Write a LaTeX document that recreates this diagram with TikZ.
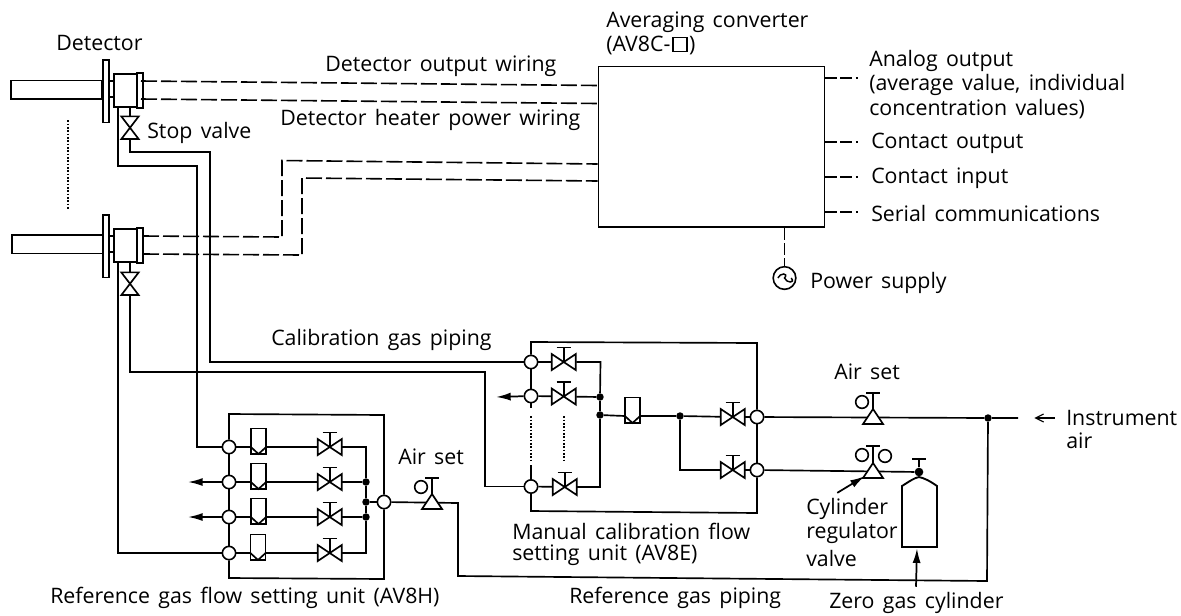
\documentclass[tikz,border=0pt]{standalone}
\usepackage{fontspec}
\setmainfont[WordSpace=1.5]{Open Sans}
\usetikzlibrary{arrows.meta}
\tikzset{
  pipe/.style={line width=1.25pt},
  wire/.style={line width=1.2pt,dash pattern=on 12pt off 3pt},
  wireshort/.style={line width=1.2pt,dash pattern=on 9pt off 2.5pt},
  thin box/.style={draw,line width=1.2pt,fill=white,inner sep=0pt},
  jct/.style={circle,draw,line width=1.2pt,fill=white,minimum size=10pt,inner sep=0pt},
  dot/.style={circle,fill=black,minimum size=5.6pt,inner sep=0pt},
  valvebox/.style={minimum width=18pt,minimum height=12pt,inner sep=0pt},
  lbl/.style={anchor=west,inner sep=0pt,font=\fontsize{16pt}{18pt}\selectfont},
  flowbox/.style={draw,line width=1.2pt,fill=white,minimum width=11.5pt,minimum height=19pt,inner sep=0pt},
  gauge/.style={circle,draw,line width=1.2pt,fill=white,minimum size=9.5pt,inner sep=0pt},
  tipfat/.style={-{Latex[length=11pt,width=6pt]},line width=1.3pt},
  tipthin/.style={-{Straight Barb[length=6pt,width=6pt]},line width=0.9pt},
  dotted col/.style={line width=1.7pt,dash pattern=on 1.4pt off 1.1pt},
  pt/.style={inner sep=0pt,minimum size=0pt},
}
% horizontal valve: bowtie with stem and T handle
\newcommand\hvalve[3]{%
  \node[valvebox] (#1) at (#2,#3) {};
  \draw[pipe,line join=miter] (#1.west) ++(0,6pt) -- ++(0,-12pt) -- ++(18pt,12pt) -- ++(0,-12pt) -- cycle;
  \draw[pipe] (#1.center) -- ++(0,11pt) ++(-5.6pt,0) -- ++(11.2pt,0);
}
% vertical stop valve
\newcommand\vvalve[3]{%
  \node[minimum width=13pt,minimum height=17pt,inner sep=0pt] (#1) at (#2,#3) {};
  \draw[pipe] (#1.north) ++(-6.5pt,0) -- ++(13pt,0) -- ++(-13pt,-17pt) -- ++(13pt,0) -- cycle;
}
% flow meter with V float; connectors meet #1l and #1r
\newcommand\flowm[3]{%
  \node[flowbox,anchor=south] (#1) at (#2,#3+7.5) {};
  \coordinate (#1l) at (#2-7.6,#3);
  \coordinate (#1r) at (#2+7.6,#3);
  \draw[pipe] (#1l) -- (#2,#3+7) -- (#1r);
}
% pressure-setting triangle with stem
\newcommand\airset[3]{%
  \draw[pipe,fill=white] (#1-10,#2+6) -- (#1,#2-9) -- (#1+10,#2+6) -- cycle;
  \draw[pipe] (#1,#2-9) -- (#1,#3) ++(-7,0) -- ++(14,0);
}
\begin{document}
\begin{tikzpicture}[x=0.75pt,y=-0.75pt]
\useasboundingbox (0,0) rectangle (1181,615);
\fill[white] (0,0) rectangle (1181,615);

% ---------- detectors
\node[thin box,anchor=north west,minimum width=68pt,minimum height=14pt] (tube1) at (10,79.5) {};
\node[thin box,anchor=north west,minimum width=4.5pt,minimum height=47pt] (fl1) at (102,59) {};
\node[thin box,anchor=north west,minimum width=17pt,minimum height=25pt] (body1) at (113,73) {};
\node[thin box,anchor=north west,minimum width=4.5pt,minimum height=26.5pt] (cap1) at (136,72) {};
\draw[pipe] (fl1.east |- 0,81) -- (body1.west |- 0,81) (fl1.east |- 0,97) -- (body1.west |- 0,97);

\node[thin box,anchor=north west,minimum width=68pt,minimum height=14pt] (tube2) at (11,234) {};
\node[thin box,anchor=north west,minimum width=4.5pt,minimum height=47pt] (fl2) at (102,214) {};
\node[thin box,anchor=north west,minimum width=17pt,minimum height=25pt] (body2) at (113,228) {};
\node[thin box,anchor=north west,minimum width=4.5pt,minimum height=26.5pt] (cap2) at (136,227) {};
\draw[pipe] (fl2.east |- 0,236) -- (body2.west |- 0,236) (fl2.east |- 0,252) -- (body2.west |- 0,252);

\node[pt] (dv1) at (68,120) {};
\node[pt] (dv2) at (68,210) {};
\draw[dotted col] (dv1) -- (dv2);

% ---------- converter
\node[thin box,anchor=north west,minimum width=169.5pt,minimum height=120.5pt] (conv) at (597.5,65.5) {};

% wiring
\coordinate (w1a) at (141,81); \coordinate (w1b) at (597.5,85.5);
\coordinate (w2a) at (141,99); \coordinate (w2b) at (597.5,103.5);
\draw[wire] (w1a) -- (w1b);
\draw[wire] (w2a) -- (w2b);
\coordinate (w3a) at (143,236); \coordinate (w3k) at (282,237); \coordinate (w3j) at (282,160.5); \coordinate (w3b) at (597.5,164);
\coordinate (w4a) at (143,254); \coordinate (w4k) at (302,255); \coordinate (w4j) at (302,178); \coordinate (w4b) at (597.5,181);
\draw[wire] (w3a) -- (w3k) -- (w3j) -- (w3b);
\draw[wire] (w4a) -- (w4k) -- (w4j) -- (w4b);

\coordinate (o1) at (858,78); \coordinate (o2) at (858,142); \coordinate (o3) at (858,177); \coordinate (o4) at (858,212);
\draw[wireshort] (conv.east |- o1) -- (o1);
\draw[wireshort] (conv.east |- o2) -- (o2);
\draw[wireshort] (conv.east |- o3) -- (o3);
\draw[wireshort] (conv.east |- o4) -- (o4);

\node[circle,draw,line width=1.2pt,minimum size=17pt,inner sep=0pt,fill=white] (pwr) at (784.5,278) {};
\draw[line width=1.1pt] (pwr.center) ++(-5pt,0) .. controls +(1.5pt,4pt) and +(3.5pt,4pt) .. ++(5pt,0) .. controls +(1.5pt,-4pt) and +(3.5pt,-4pt) .. ++(5pt,0);
\draw[wireshort] (conv.south -| pwr) -- (pwr);

% ---------- stop valves
\vvalve{sv1}{130}{128}
\vvalve{sv2}{130}{284}
\draw[pipe] (body1.south -| sv1) -- (sv1);
\draw[pipe] (body2.south -| sv2) -- (sv2);

% ---------- reference unit AV8H
\node[jct] (r1) at (229,447) {};
\node[jct] (r2) at (229,482) {};
\node[jct] (r3) at (229,517) {};
\node[jct] (r4) at (229,553) {};
\node[jct] (rout) at (384,502) {};
\coordinate (rtl) at (229,414); \coordinate (rtr) at (384,415);
\coordinate (rbr) at (384,579); \coordinate (rbl) at (229,578);
\draw[pipe] (r1) -- (rtl) -- (rtr) -- (rout);
\draw[pipe] (rout) -- (rbr) -- (rbl) -- (r4);
\draw[pipe] (r1) -- (r2);
\draw[pipe] (r2) -- (r3);
\draw[pipe] (r3) -- (r4);
\flowm{rf1}{258.5}{447}
\flowm{rf2}{258.5}{482}
\flowm{rf3}{258.5}{517}
\flowm{rf4}{258}{553}
\hvalve{rv1}{330}{447}
\hvalve{rv2}{330}{482}
\hvalve{rv3}{330}{517}
\hvalve{rv4}{330}{553}
\coordinate (rb1) at (366,447);
\node[dot] (rd2) at (366,482) {};
\node[dot] (rdm) at (366,502) {};
\node[dot] (rd3) at (366,517) {};
\coordinate (rb4) at (366,553);
\foreach \i in {1,2,3,4} { \draw[pipe] (r\i) -- (rf\i l); \draw[pipe] (rf\i r) -- (rv\i); }
\draw[pipe] (rv1) -- (rb1) -- (rd2);
\draw[pipe] (rv2) -- (rd2);
\draw[pipe] (rv3) -- (rd3);
\draw[pipe] (rv4) -- (rb4) -- (rd3);
\draw[pipe] (rd2) -- (rdm);
\draw[pipe] (rdm) -- (rd3);
\draw[pipe] (rdm) -- (rout);
\coordinate (ra2) at (188,482); \coordinate (ra3) at (188,517);
\draw[tipfat] (r2) -- (ra2);
\draw[tipfat] (r3) -- (ra3);

% ---------- pipes from detectors
\coordinate (p1) at (118,166); \coordinate (p2) at (197,166); \coordinate (p3) at (197,447);
\draw[pipe] (body1.south -| p1) -- (p1) -- (p2) -- (p3) -- (r1);
\coordinate (q1) at (130,152); \coordinate (q2) at (210,152); \coordinate (q3) at (210,362);
\coordinate (s1) at (118,553);
\draw[pipe] (body2.south -| s1) -- (s1) -- (r4);
\coordinate (t1) at (130,372); \coordinate (t2) at (485,372); \coordinate (t3) at (485,486.5);

% ---------- calibration unit AV8E
\node[jct] (c1) at (531,362) {};
\node[jct] (c2) at (531,396) {};
\node[jct] (c3) at (531,486.5) {};
\node[jct] (m1) at (757,417) {};
\node[jct] (m2) at (757,470) {};
\draw[pipe] (sv1) -- (q1) -- (q2) -- (q3) -- (c1);
\draw[pipe] (sv2) -- (t1) -- (t2) -- (t3) -- (c3);
\coordinate (ctl) at (531,342); \coordinate (ctr) at (757,343);
\coordinate (cbr) at (757,513); \coordinate (cbl) at (531,511);
\draw[pipe] (c1) -- (ctl) -- (ctr) -- (m1);
\draw[pipe] (m1) -- (m2);
\draw[pipe] (m2) -- (cbr) -- (cbl) -- (c3);
\draw[pipe] (c1) -- (c2);
\coordinate (cs1) at (531,408); \coordinate (cs2) at (531,465);
\draw[pipe] (c2) -- (cs1);
\draw[pipe] (cs2) -- (c3);
\node[pt] (cd1) at (531,416) {};
\node[pt] (cd2) at (531,460) {};
\node[pt] (cd3) at (564,416) {};
\node[pt] (cd4) at (564,460) {};
\draw[dotted col] (cd1) -- (cd2);
\draw[dotted col] (cd3) -- (cd4);
\hvalve{cv1}{564}{362}
\hvalve{cv2}{564}{396.5}
\hvalve{cv3}{565}{487}
\coordinate (cb1) at (600.5,362);
\node[dot] (cd) at (600,397) {};
\node[dot] (ce) at (600,415) {};
\coordinate (cb3) at (600,487);
\draw[pipe] (c1) -- (cv1);
\draw[pipe] (c2) -- (cv2);
\draw[pipe] (c3) -- (cv3);
\draw[pipe] (cv1) -- (cb1) -- (cd);
\draw[pipe] (cv2) -- (cd);
\draw[pipe] (cd) -- (ce);
\draw[pipe] (cv3) -- (cb3) -- (ce);
\coordinate (ca) at (496,397);
\draw[tipfat] (c2) -- (ca);
\flowm{cf}{632.5}{416}
\node[dot] (cj) at (680,416) {};
\hvalve{mv1}{733}{417}
\hvalve{mv2}{733}{470}
\coordinate (cjb) at (680,470);
\draw[pipe] (ce) -- (cfl);
\draw[pipe] (cfr) -- (cj);
\draw[pipe] (cj) -- (mv1);
\draw[pipe] (cj) -- (cjb) -- (mv2);
\draw[pipe] (mv1) -- (m1);
\draw[pipe] (mv2) -- (m2);

% ---------- air supply
\coordinate (in) at (1018,418);
\node[dot] (ij) at (988,418) {};
\node[dot,minimum size=6.5pt] (cv) at (919,472) {};
\coordinate (cvt) at (919,459);
\draw[pipe] (m1) -- (ij) -- (in);
\draw[pipe] (m2) -- (cv);
\draw[pipe] (cv) -- (cvt) ++(-7,0) -- ++(14,0);
\coordinate (l1) at (458,503); \coordinate (l2) at (458,576); \coordinate (l3) at (987,581);
\draw[pipe] (rout) -- (l1) -- (l2) -- (l3) -- (ij);
\airset{432}{503}{478}
\node[gauge] (g4) at (421,487) {};
\airset{873}{418}{393}
\node[gauge] (g1) at (862,402) {};
\airset{873}{472}{446}
\node[gauge] (g2) at (862,455) {};
\node[gauge] (g3) at (885,456) {};

% cylinder
\draw[line width=1.4pt,fill=white] (902,547) -- (902,486) .. controls (910,481) and (914,478) .. (919,477) .. controls (924,478) and (930,481) .. (937,486) -- (937,547) -- cycle;
\node[pt] (cylb) at (917,548) {};
\node[pt] (zt) at (916,587) {};
\draw[tipfat] (zt) -- (cylb);
\node[pt] (rt) at (837,493) {};
\node[pt] (rh) at (865,476) {};
\draw[tipfat] (rt) -- (rh);
\node[pt] (iat) at (1055,418) {};
\node[pt] (iah) at (1034,418) {};
\draw[tipthin] (iat) -- (iah);

% ---------- labels
\node[lbl] (t01) at (56,43) {Detector};
\node[lbl] (t02) at (147,133) {Stop valve};
\node[lbl] (t03) at (325,66) {Detector output wiring};
\node[lbl] (t04) at (280,120) {Detector heater power wiring};
\node[lbl] (t05) at (606,22) {Averaging converter};
\node[lbl] (t06) at (606,45) {(AV8C-\kern1.5pt\raisebox{-0.5pt}{\tikz[baseline=0pt]\draw[line width=1pt] (0,0) rectangle (10.5pt,10.5pt);}\kern1pt)};
\node[lbl] (t07) at (869,61) {Analog output};
\node[lbl] (t08) at (869,85) {(average value, individual};
\node[lbl] (t09) at (869,109) {concentration values)};
\node[lbl] (t10) at (871,143) {Contact output};
\node[lbl] (t11) at (871,178) {Contact input};
\node[lbl] (t12) at (871,213) {Serial communications};
\node[lbl] (t13) at (810,283) {Power supply};
\node[lbl] (t14) at (271,340) {Calibration gas piping};
\node[lbl] (t15) at (398,457) {Air set};
\node[lbl] (t16) at (834,372) {Air set};
\node[lbl] (t17) at (512,531) {Manual calibration flow};
\node[lbl] (t18) at (512,555) {setting unit (AV8E)};
\node[lbl] (t19) at (50,598) {Reference gas flow setting unit (AV8H)};
\node[lbl] (t20) at (569,598) {Reference gas piping};
\node[lbl] (t21) at (829,603) {Zero gas cylinder};
\node[lbl] (t22) at (806,509) {Cylinder};
\node[lbl] (t23) at (806,533) {regulator};
\node[lbl] (t24) at (806,558) {valve};
\node[lbl] (t25) at (1066,418) {Instrument};
\node[lbl] (t26) at (1066,441) {air};
\end{tikzpicture}
\end{document}
